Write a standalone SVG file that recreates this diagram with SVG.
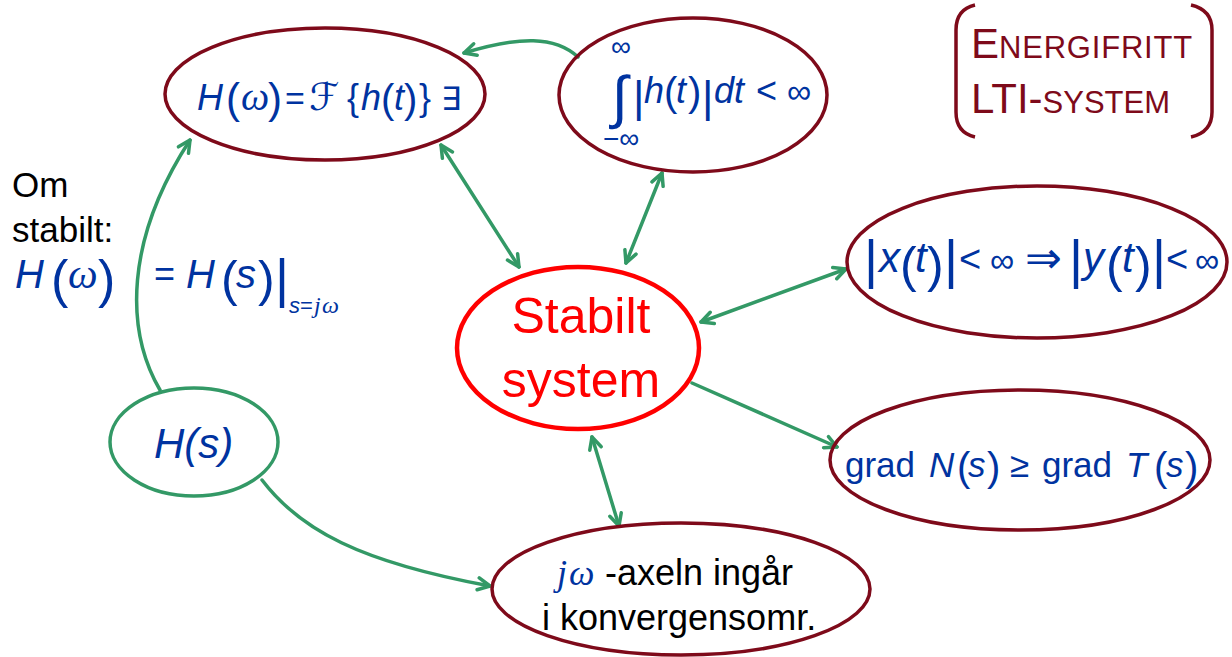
<svg xmlns="http://www.w3.org/2000/svg" width="1232" height="657" viewBox="0 0 1232 657">
<style>
.dr{fill:none;stroke:#7E0A1A;stroke-width:3.5}
.gr{fill:none;stroke:#339966;stroke-width:3.5}
.con{fill:none;stroke:#339966;stroke-width:3.5;stroke-linecap:round}
.m{font-family:"Liberation Sans",Arial,sans-serif;fill:#0033A0}
.i{font-style:italic}
.w{font-family:"Liberation Serif","Times New Roman",serif;font-style:italic}
.sym{font-family:"DejaVu Sans","Noto Sans",sans-serif}
.blk{font-family:"Liberation Sans",Arial,sans-serif;fill:#000}
.red{font-family:"Liberation Sans",Arial,sans-serif;fill:#FF0000;font-size:50px}
.ttl{font-family:"Liberation Sans",Arial,sans-serif;fill:#7E0A1A}
</style>
<defs>
<marker id="ah" viewBox="0 0 16 16" refX="14" refY="8" markerWidth="16" markerHeight="16" markerUnits="userSpaceOnUse" orient="auto-start-reverse">
<path d="M2,2 L14,8 L2,14" fill="none" stroke="#339966" stroke-width="3.5" stroke-linecap="round" stroke-linejoin="round"/>
</marker>
</defs>
<rect width="1232" height="657" fill="#fff"/>

<g id="connectors">
<path class="con" d="M578,57 C555,36 520,36 464,53" marker-end="url(#ah)"/>
<path class="con" d="M441,145 L519,267" marker-start="url(#ah)" marker-end="url(#ah)"/>
<path class="con" d="M662,173 L626,263" marker-start="url(#ah)" marker-end="url(#ah)"/>
<path class="con" d="M701,322 L846,269" marker-start="url(#ah)" marker-end="url(#ah)"/>
<path class="con" d="M692,383 L837,447" marker-end="url(#ah)"/>
<path class="con" d="M592,437 L619,526" marker-start="url(#ah)" marker-end="url(#ah)"/>
<path class="con" d="M160,390 C125,330 125,240 190,140" marker-end="url(#ah)"/>
<path class="con" d="M262,480 C300,530 360,562 490,586" marker-end="url(#ah)"/>
</g>

<g id="node-fourier">
<ellipse class="dr" cx="325" cy="94" rx="160" ry="66"/>
<text class="m" font-size="36" y="110">
<tspan class="i" x="197">H</tspan><tspan x="226" y="113" font-size="42">(</tspan><tspan class="w" x="241" y="110" font-size="40">ω</tspan><tspan x="268" y="113" font-size="42">)</tspan><tspan x="285" y="110" font-size="34">=</tspan><tspan class="sym i" x="309" font-size="38">ℱ</tspan><tspan x="347">{</tspan><tspan class="i" x="361">h</tspan><tspan x="381" y="113" font-size="40">(</tspan><tspan class="i" x="394" y="110">t</tspan><tspan x="404" y="113" font-size="40">)</tspan><tspan x="419" y="110">}</tspan><tspan class="sym" x="441" font-size="32">∃</tspan>
</text>
</g>

<g id="node-integral">
<ellipse class="dr" cx="693" cy="95" rx="134" ry="77"/>
<text class="m" font-size="36">
<tspan x="611" y="56" font-size="28">∞</tspan>
<tspan x="603" y="148" font-size="28">−∞</tspan>
<tspan x="612" y="117" font-size="58">∫</tspan>
<tspan x="633" y="112" font-size="44">|</tspan>
<tspan class="i" x="644" y="103">h</tspan>
<tspan x="664" y="106" font-size="40">(</tspan>
<tspan class="i" x="676" y="103">t</tspan>
<tspan x="688" y="106" font-size="40">)</tspan>
<tspan x="702" y="112" font-size="44">|</tspan>
<tspan class="i" x="714" y="103">dt</tspan>
<tspan x="756" y="103">&lt;</tspan>
<tspan x="787" y="103" font-size="34">∞</tspan>
</text>
</g>

<g id="node-stabilt">
<ellipse cx="578" cy="348" rx="121" ry="81" fill="none" stroke="#FF0000" stroke-width="4.5"/>
<text class="red" x="581" y="333" text-anchor="middle">Stabilt</text>
<text class="red" x="581" y="397" text-anchor="middle">system</text>
</g>

<g id="node-bibo">
<ellipse class="dr" cx="1037" cy="262" rx="190" ry="76"/>
<text class="m" font-size="42" y="272">
<tspan x="864" y="278" font-size="54">|</tspan><tspan class="i" x="879" y="272">x</tspan><tspan x="900" y="282" font-size="50">(</tspan><tspan class="i" x="915" y="272">t</tspan><tspan x="927" y="282" font-size="50">)</tspan><tspan x="944" y="278" font-size="54">|</tspan><tspan x="959" y="272" font-size="38">&lt;</tspan><tspan x="990" y="272" font-size="34">∞</tspan><tspan class="sym" x="1025" y="273" font-size="44">⇒</tspan><tspan x="1069" y="278" font-size="54">|</tspan><tspan class="i" x="1083" y="272">y</tspan><tspan x="1106" y="282" font-size="50">(</tspan><tspan class="i" x="1122" y="272">t</tspan><tspan x="1135" y="282" font-size="50">)</tspan><tspan x="1152" y="278" font-size="54">|</tspan><tspan x="1166" y="272" font-size="38">&lt;</tspan><tspan x="1195" y="272" font-size="34">∞</tspan>
</text>
</g>

<g id="node-grad">
<ellipse class="dr" cx="1020" cy="460" rx="190" ry="70"/>
<text class="m" font-size="35" y="477">
<tspan x="845">grad</tspan><tspan class="i" x="929">N</tspan><tspan x="957" y="481" font-size="40">(</tspan><tspan class="i" x="968" y="477">s</tspan><tspan x="987" y="481" font-size="40">)</tspan><tspan x="1010" y="477">≥</tspan><tspan x="1042">grad</tspan><tspan class="i" x="1126">T</tspan><tspan x="1154" y="481" font-size="40">(</tspan><tspan class="i" x="1166" y="477">s</tspan><tspan x="1185" y="481" font-size="40">)</tspan>
</text>
</g>

<g id="node-jw">
<ellipse class="dr" cx="681" cy="589" rx="189" ry="66"/>
<text class="blk" font-size="36" y="585"><tspan class="w" x="557" fill="#0033A0">j</tspan><tspan class="w" x="569" fill="#0033A0">ω</tspan><tspan x="605">-axeln ingår</tspan></text>
<text class="blk" font-size="36" x="542" y="630">i konvergensomr.</text>
</g>

<g id="node-hs">
<ellipse class="gr" cx="194" cy="442" rx="84" ry="54"/>
<text class="m i" font-size="42" x="154" y="458">H(s)</text>
</g>

<g id="label-om">
<text class="blk" font-size="35" x="12" y="197">Om</text>
<text class="blk" font-size="35" x="12" y="242">stabilt:</text>
<text class="m" font-size="40" y="288">
<tspan class="i" x="15">H</tspan><tspan x="51" y="297" font-size="52">(</tspan><tspan class="w" x="68" y="288" font-size="42">ω</tspan><tspan x="98" y="297" font-size="52">)</tspan>
<tspan x="154" y="286" font-size="36">=</tspan><tspan class="i" x="186" y="288">H</tspan><tspan x="221" y="296" font-size="50">(</tspan><tspan class="i" x="236" y="288">s</tspan><tspan x="258" y="296" font-size="50">)</tspan><tspan x="275" y="297" font-size="54">|</tspan><tspan class="i" x="289" y="313" font-size="22">s</tspan><tspan x="300" y="313" font-size="22">=</tspan><tspan class="w" x="314" y="313" font-size="24">j</tspan><tspan class="w" x="322" y="313" font-size="24">ω</tspan>
</text>
</g>

<g id="title">
<path class="dr" d="M975,5 C962,8 956,16 956,30 L956,112 C956,126 962,134 975,137"/>
<path class="dr" d="M1191,5 C1204,8 1212,16 1212,30 L1212,112 C1212,126 1204,134 1191,137"/>
<text class="ttl" font-size="42" x="971" y="58">E<tspan font-size="31" letter-spacing="0.8">NERGIFRITT</tspan></text>
<text class="ttl" font-size="42" x="971" y="113">LTI-<tspan font-size="31">SYSTEM</tspan></text>
</g>
</svg>
